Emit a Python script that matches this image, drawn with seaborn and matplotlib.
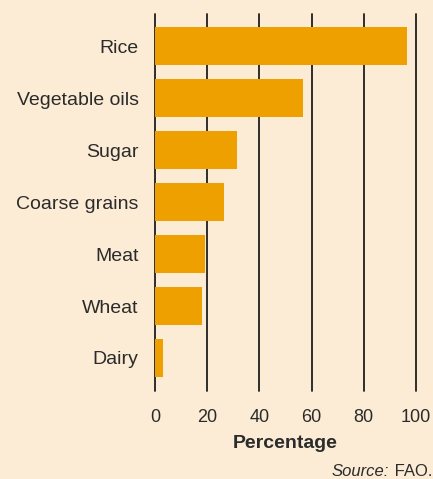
import matplotlib
matplotlib.use("Agg")
import matplotlib.pyplot as plt
import seaborn as sns
import pandas as pd

categories = ["Rice", "Vegetable oils", "Sugar", "Coarse grains", "Meat", "Wheat", "Dairy"]
percentages = [96.7, 56.7, 31.4, 26.4, 19.1, 17.9, 3.0]
x_ticks = [0, 20, 40, 60, 80, 100]

bg = "#FCECD5"
bar_color = "#EEA000"
text_color = "#2B2B2B"

sns.set_theme(style="white")
plt.rcParams["font.family"] = ["Liberation Sans", "DejaVu Sans"]

df = pd.DataFrame({"category": categories, "pct": percentages})

fig = plt.figure(figsize=(4.33, 4.79), dpi=100, facecolor=bg)
ax = fig.add_axes([0.3587, 0.1843, 0.6015, 0.7865], facecolor=bg)

sns.barplot(data=df, x="pct", y="category", color=bar_color, saturation=1,
            width=0.73, linewidth=0, edgecolor="none", ax=ax, zorder=3)

ax.set_xlim(0, 100)
ax.set_ylim(6.63, -0.62)
ax.set_xticks(x_ticks)
ax.set_xticklabels([str(t) for t in x_ticks])
for t in x_ticks:
    ax.axvline(t, color="#1E1E1E", lw=1.3, zorder=2, clip_on=False)

for s in ax.spines.values():
    s.set_visible(False)

ax.tick_params(axis="both", length=0, colors=text_color)
ax.tick_params(axis="x", pad=13, labelsize=13)
ax.tick_params(axis="y", pad=12, labelsize=14)
ax.set_ylabel("")
ax.set_xlabel("Percentage", fontsize=14, fontweight="bold", color=text_color, labelpad=7)

fig.text(0.9985, 0.001, " FAO.", ha="right", va="bottom", fontsize=12, color=text_color)
fig.text(0.8985, 0.001, "Source:", ha="right", va="bottom", fontsize=12,
         style="italic", color=text_color)

fig.savefig("out.png", dpi=100, facecolor=bg)
